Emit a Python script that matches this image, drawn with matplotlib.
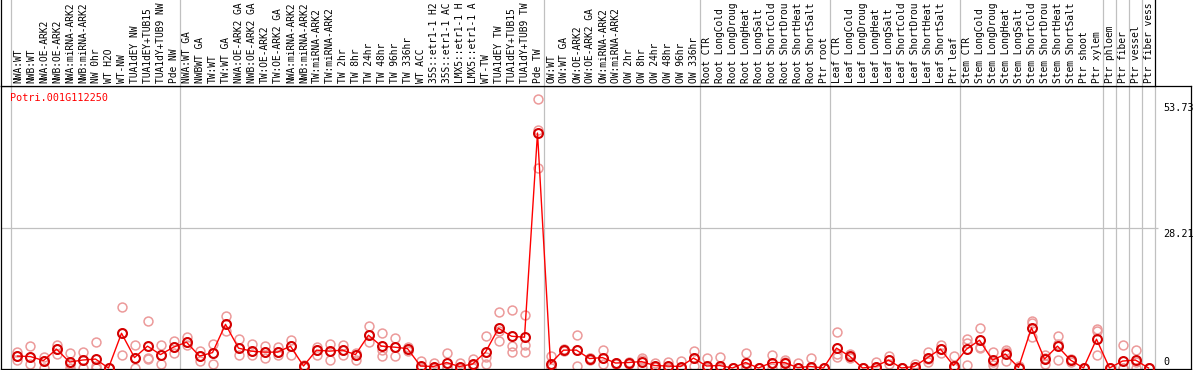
import matplotlib
matplotlib.use("Agg")
import matplotlib.pyplot as plt
import matplotlib.transforms as mtransforms

gene = "Potri.001G112250"

labels = [
    "NWA:WT", "NWB:WT", "NWA:OE-ARK2", "NWB:OE-ARK2", "NWA:miRNA-ARK2",
    "NWB:miRNA-ARK2", "NW 0hr", "WT H2O", "WT-NW", "TUA1dEY NW",
    "TUA1dEY+TUB15 NW", "TUA1dY+TUB9 NW", "Pde NW",
    "NWA:WT GA", "NWBWT GA", "TW:WT", "TW:WT GA", "NWA:OE-ARK2 GA",
    "NWB:OE-ARK2 GA", "TW:OE-ARK2", "TW:OE-ARK2 GA", "NWA:miRNA-ARK2 GA",
    "NWB:miRNA-ARK2 GA", "TW:miRNA-ARK2", "TW:miRNA-ARK2 GA", "TW 2hr",
    "TW 8hr", "TW 24hr", "TW 48hr", "TW 96hr", "TW 336hr", "WT ACC",
    "35S::etr1-1 H2O", "35S::etr1-1 ACC", "LMX5::etr1-1 H2O",
    "LMX5::etr1-1 ACC", "WT-TW", "TUA1dEY TW", "TUA1dEY+TUB15 TW",
    "TUA1dY+TUB9 TW", "Pde TW",
    "OW:WT", "OW:WT GA", "OW:OE-ARK2", "OW:OE-ARK2 GA", "OW:miRNA-ARK2",
    "OW:miRNA-ARK2 GA", "OW 2hr", "OW 8hr", "OW 24hr", "OW 48hr", "OW 96hr",
    "OW 336hr",
    "Root CTR", "Root LongCold", "Root LongDrought", "Root LongHeat",
    "Root LongSalt", "Root ShortCold", "Root ShortDrought", "Root ShortHeat",
    "Root ShortSalt", "Ptr root",
    "Leaf CTR", "Leaf LongCold", "Leaf LongDrought", "Leaf LongHeat",
    "Leaf LongSalt", "Leaf ShortCold", "Leaf ShortDrought", "Leaf ShortHeat",
    "Leaf ShortSalt", "Ptr leaf",
    "Stem CTR", "Stem LongCold", "Stem LongDrought", "Stem LongHeat",
    "Stem LongSalt", "Stem ShortCold", "Stem ShortDrought", "Stem ShortHeat",
    "Stem ShortSalt", "Ptr shoot",
    "Ptr xylem", "Ptr phloem", "Ptr fiber", "Ptr vessel", "Ptr fiber vessel",
]

means = [
    2.4, 2.3, 1.5, 3.8, 1.2, 1.6, 1.8, 0, 7.0, 2.1, 4.4, 2.7, 4.2,
    5.2, 2.4, 3.1, 8.8, 4.0, 3.4, 3.2, 3.2, 4.4, 0.4,
    3.6, 3.4, 3.6, 2.7, 6.6, 4.4, 4.2, 3.9, 0.4, 0.3,
    1.1, 0.3, 0.8, 3.2, 8.0, 6.4, 6.2, 47.35,
    0.9, 3.6, 3.6, 1.9, 2.1, 1.0, 1.1, 1.3, 0.5, 0.4, 0.3, 2.0,
    0.4, 0.5, 0, 1.1, 0, 1.1, 1.1, 0.1, 0.3, 0,
    4.0, 2.4, 0, 0.3, 1.6, 0, 0.3, 2.1, 3.8, 0.5,
    3.8, 5.6, 1.6, 2.8, 0.1, 8.1, 1.8, 4.4, 1.6, 0, 5.8,
    0, 1.4, 1.6, 0,
]

rep1 = [
    3.2, 4.4, 2.3, 4.6, 3.0, 3.2, 5.2, 0, 12.3, 4.6, 9.5, 4.6, 5.5,
    6.2, 3.5, 4.8, 10.4, 5.8, 4.8, 4.4, 4.2, 5.7, 0.6,
    4.3, 4.8, 4.6, 3.0, 8.5, 7.0, 6.1, 4.3, 1.4, 1.0,
    3.0, 1.0, 1.8, 6.4, 11.2, 11.6, 10.7, 54.3,
    2.4, 3.8, 6.7, 2.1, 3.6, 1.1, 1.1, 2.1, 1.1, 1.2, 1.5, 3.4,
    2.0, 2.3, 0, 3.0, 0, 2.6, 1.6, 1.1, 2.0, 0,
    7.2, 2.9, 0, 1.2, 2.4, 0, 0.9, 3.3, 4.6, 2.5,
    5.9, 8.0, 3.3, 3.6, 0.5, 9.5, 2.6, 6.5, 1.7, 0, 7.8,
    0, 4.6, 3.6, 0,
]
rep2 = [
    1.6, 0.8, 1.5, 2.9, 0.8, 1.6, 0.4, 0, 2.6, 0, 2.0, 2.6, 3.1,
    4.6, 1.5, 0.8, 7.4, 2.6, 2.6, 2.0, 2.6, 2.7, 0.3,
    2.6, 1.7, 2.6, 1.7, 5.3, 2.5, 2.4, 3.5, 0, 0,
    0.2, 0, 0, 0.8, 5.5, 4.4, 4.6, 48.0,
    0.4, 3.4, 0.4, 1.6, 0.8, 0.9, 1.3, 1.7, 0.2, 0, 0, 0.4,
    0, 0, 0, 0, 0, 0, 1.3, 0, 0, 0,
    2.8, 2.3, 0, 0.3, 0.8, 0, 0.3, 1.2, 3.8, 0,
    5.0, 4.3, 0.6, 1.5, 0, 9.0, 0.9, 1.6, 1.2, 0, 7.4,
    0, 0, 0, 0,
]
rep3 = [
    2.4, 2.3, 0, 3.8, 0, 0, 0, 0, 7.0, 2.1, 1.9, 0.8, 4.2,
    5.2, 2.4, 3.0, 8.8, 4.0, 3.4, 3.2, 3.2, 4.4, 0.3,
    3.6, 3.4, 3.6, 2.7, 6.6, 3.7, 4.2, 3.9, 0, 0,
    0, 0, 0.6, 2.3, 7.4, 3.2, 3.3, 40.3,
    0, 3.6, 3.6, 2.0, 2.1, 1.0, 0.9, 0.2, 0.2, 0, 0, 2.0,
    0, 0, 0, 0.3, 0, 1.1, 0.3, 0, 0, 0,
    2.3, 2.0, 0, 0, 1.6, 0, 0, 1.8, 3.0, 0,
    0.6, 4.0, 1.2, 3.2, 0, 6.2, 2.0, 4.9, 1.9, 0, 2.6,
    0, 0, 1.2, 0,
]

group_edges = [-0.5, 12.5, 40.5, 52.5, 62.5, 72.5, 83.5, 84.5, 85.5, 86.5]
right_labels = [53.73, 28.21, 0]

W, H = 1194, 370
fig = plt.figure(figsize=(W / 100, H / 100), dpi=100)

# pixel geometry of the two panels
col0, colw = 17.5, 13.0
def px2k(px):
    return (px - col0) / colw

y0px, ppu = 368, 140 / 28.21
ax = fig.add_axes([1 / W, 1 / H, 1190 / W, 283 / H])
ax.set_xlim(px2k(1), px2k(1191))
ax.set_ylim((y0px - 369) / ppu, (y0px - 86) / ppu)

top = fig.add_axes([1 / W, 284 / H, 1154 / W, 86 / H])
top.set_xlim(px2k(1), px2k(1155))
top.set_ylim(0, 1)

for a in (ax, top):
    a.set_xticks([])
    a.set_yticks([])
    for s in a.spines.values():
        s.set_color("black")
        s.set_linewidth(0.9)
top.spines["top"].set_visible(False)

for e in group_edges:
    ax.axvline(e, color="#c0c0c0", lw=0.9, zorder=0)
    top.axvline(e, color="#c0c0c0", lw=0.9, zorder=0)
ax.axvline(87.5, color="#c0c0c0", lw=0.9, zorder=0)

ax.hlines(28.21, px2k(1), px2k(1158), color="#c0c0c0", lw=0.9, zorder=0)

mono = "DejaVu Sans Mono"
# the header only has room for about 14 characters, as in the original
for i, lab in enumerate(labels):
    top.text(i + 0.05, 0.03, lab[:14], rotation=90, ha="center", va="bottom",
             fontsize=6.9, family=mono, color="black")

x = list(range(len(means)))
for r in (rep1, rep2, rep3):
    ax.plot(x, r, ls="none", marker="o", ms=6.4, mfc="none",
            mec="#ec9a9a", mew=1.1, zorder=2, clip_on=True)
ax.plot(x, means, color="red", lw=1.0, zorder=3)
ax.plot(x, means, ls="none", marker="o", ms=6.4, mfc="none",
        mec="#d40000", mew=1.5, zorder=4)

ax.text(9 / 1190, 1 - 7 / 283, gene, transform=ax.transAxes, color="red",
        fontsize=7.3, family=mono, ha="left", va="top")

lab_tr = mtransforms.blended_transform_factory(ax.transAxes, ax.transData)
for v in right_labels:
    if v == 0:
        ax.text(1162 / 1190, v + 0.2, "0", transform=lab_tr, fontsize=7.3,
                family=mono, ha="left", va="bottom")
    else:
        ax.text(1162 / 1190, v - 0.3, f"{v:.2f}", transform=lab_tr,
                fontsize=7.3, family=mono, ha="left", va="top")

fig.savefig("out.png", dpi=100)
